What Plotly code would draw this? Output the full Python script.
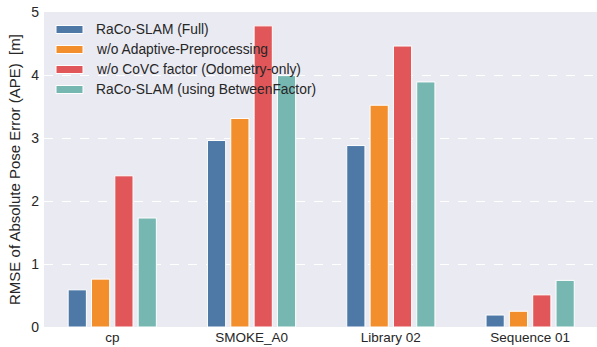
import plotly.graph_objects as go

# RMSE of APE per sequence, for each configuration
sequences = ["cp", "SMOKE_A0", "Library 02", "Sequence 01"]
series_names = [
    "RaCo-SLAM (Full)",
    "w/o Adaptive-Preprocessing",
    "w/o CoVC factor (Odometry-only)",
    "RaCo-SLAM (using BetweenFactor)",
]
full = [0.59, 2.96, 2.88, 0.19]
no_preproc = [0.76, 3.31, 3.52, 0.25]
no_covc = [2.40, 4.78, 4.46, 0.51]
between = [1.73, 3.99, 3.89, 0.74]
series_values = [full, no_preproc, no_covc, between]
colors = ["#4E79A7", "#F28E2B", "#E15759", "#76B7B2"]

FONT = "Arial, 'Liberation Sans', sans-serif"
TXT = "#262626"

fig = go.Figure()
for name, vals, col in zip(series_names, series_values, colors):
    fig.add_trace(go.Bar(
        x=sequences, y=vals, name=name,
        marker=dict(color=col, line=dict(color="white", width=1)),
        showlegend=False,
    ))

# legend drawn as wide swatches with labels, in the upper-left corner
W, H = 597, 347
ml, mr, mt, mb = 44, 0, 12, 20
pw, ph = W - ml - mr, H - mt - mb
def px_x(px):
    return (px - ml) / pw
def px_y(py):
    return 1 - (py - mt) / ph
for i, (name, col) in enumerate(zip(series_names, colors)):
    yc = 29.5 + 20 * i
    fig.add_shape(type="rect", xref="paper", yref="paper",
                  x0=px_x(56), x1=px_x(83), y0=px_y(yc - 4), y1=px_y(yc + 4),
                  fillcolor=col, line=dict(color="white", width=1), layer="above")
    fig.add_annotation(xref="paper", yref="paper", x=px_x(94), y=px_y(yc),
                       xanchor="left", yanchor="middle", text=name, showarrow=False,
                       font=dict(family=FONT, size=13.8, color=TXT))

fig.update_layout(
    width=W, height=H,
    margin=dict(l=ml, r=mr, t=mt, b=mb),
    paper_bgcolor="white", plot_bgcolor="#EAEAF2",
    barmode="group", bargap=0.33, bargroupgap=0.22,
    font=dict(family=FONT, size=13.5, color=TXT),
    xaxis=dict(range=[-0.49, 3.48], showgrid=False, zeroline=False,
               showline=False, ticks="", tickfont=dict(size=13.5, color=TXT)),
    yaxis=dict(range=[0, 5], tickvals=[0, 1, 2, 3, 4, 5], showgrid=True,
               gridcolor="white", griddash="dash", gridwidth=1, zeroline=False,
               showline=False, ticks="", ticklabelstandoff=4,
               tickfont=dict(size=14, color=TXT),
               title=dict(text="RMSE of Absolute Pose Error (APE)  [m]",
                          font=dict(size=15, color=TXT), standoff=6)),
)

fig.write_html("out.html")
